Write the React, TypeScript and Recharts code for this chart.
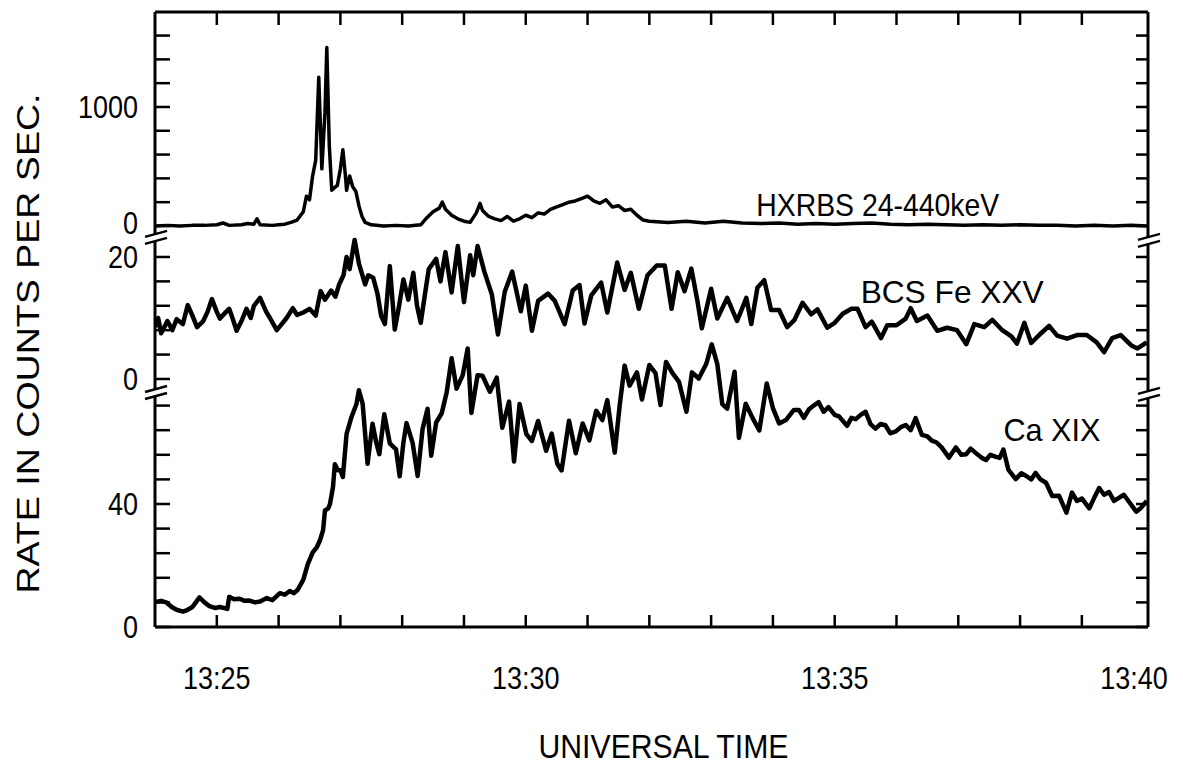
import React from 'react';
import { LineChart, Line, XAxis, YAxis, ReferenceDot } from 'recharts';

const FONT = '"Liberation Sans", Arial, Helvetica, sans-serif';

// time in minutes after 13:00 UT, rate in counts per second
const hxrbsSeries: [number, number][] = [
  [24.0, 0], [24.2, 5], [24.4, 0], [24.6, 5], [24.8, 5], [25.0, 10], [25.1, 25], [25.2, 5], [25.4, 10],
  [25.5, 20], [25.6, 15], [25.65, 60], [25.7, 10], [25.9, 5], [26.0, 10], [26.1, 15], [26.2, 30], [26.3, 50],
  [26.4, 120], [26.45, 250], [26.5, 220], [26.55, 420], [26.6, 550], [26.65, 1250], [26.7, 480], [26.75, 950],
  [26.78, 1500], [26.82, 680], [26.86, 300], [26.9, 320], [26.95, 340], [27.0, 480], [27.04, 640], [27.08, 430],
  [27.1, 300], [27.15, 420], [27.2, 330], [27.25, 290], [27.3, 170], [27.35, 80], [27.4, 30], [27.5, 10],
  [27.7, 0], [27.9, 5], [28.1, 0], [28.3, 10], [28.4, 70], [28.5, 120], [28.6, 150], [28.65, 200], [28.7, 140],
  [28.8, 90], [28.9, 60], [29.0, 40], [29.1, 30], [29.2, 110], [29.26, 190], [29.3, 130], [29.4, 80], [29.5, 60],
  [29.6, 45], [29.7, 80], [29.8, 40], [29.9, 60], [30.0, 90], [30.1, 70], [30.2, 110], [30.3, 100], [30.4, 140],
  [30.5, 160], [30.6, 180], [30.7, 200], [30.8, 210], [30.9, 230], [31.0, 250], [31.1, 210], [31.2, 190],
  [31.3, 220], [31.4, 160], [31.5, 170], [31.6, 130], [31.7, 140], [31.8, 90], [31.9, 50], [32.0, 40],
  [32.3, 30], [32.6, 40], [32.9, 25], [33.2, 40], [33.5, 25], [33.8, 20], [34.1, 25], [34.4, 15], [34.7, 20],
  [35.0, 15], [35.3, 20], [35.6, 25], [35.9, 15], [36.2, 10], [36.5, 15], [36.8, 10], [37.1, 5], [37.4, 10],
  [37.7, 5], [38.0, 10], [38.3, 5], [38.6, 5], [38.9, 0], [39.2, 5], [39.5, 0], [39.8, 5], [40.05, 0],
];

const bcsFeSeries: [number, number][] = [
  [24.0, 8.5], [24.05, 10], [24.1, 7.5], [24.2, 9.5], [24.28, 8], [24.35, 9.8], [24.45, 9], [24.53, 12.1],
  [24.6, 10.5], [24.68, 8.5], [24.78, 9.5], [24.85, 11], [24.92, 13.1], [25.0, 11], [25.05, 9.9], [25.15, 11],
  [25.2, 11.5], [25.27, 9.5], [25.32, 7.9], [25.4, 9.5], [25.48, 11.5], [25.55, 10], [25.6, 12], [25.7, 13.3],
  [25.8, 11], [25.86, 10], [25.97, 8], [26.05, 9], [26.13, 10], [26.23, 11.6], [26.3, 10.5], [26.4, 10.9],
  [26.5, 11.5], [26.6, 10.4], [26.68, 14.4], [26.75, 13], [26.85, 14.5], [26.92, 13.5], [26.98, 15.5],
  [27.05, 17], [27.1, 20], [27.15, 18], [27.23, 22.8], [27.3, 18.9], [27.4, 15.5], [27.45, 17], [27.53, 16.6],
  [27.6, 14], [27.66, 10.3], [27.72, 9], [27.8, 18.5], [27.88, 8.1], [27.95, 12], [28.02, 16.3], [28.1, 13],
  [28.18, 17.4], [28.24, 12], [28.3, 9.2], [28.37, 14], [28.43, 18], [28.55, 19.7], [28.62, 16], [28.7, 20.8],
  [28.8, 14.2], [28.9, 21.8], [29.0, 12.6], [29.1, 20.3], [29.15, 17], [29.22, 21.8], [29.33, 17.6],
  [29.45, 13.9], [29.55, 7.3], [29.66, 14.3], [29.78, 17.6], [29.92, 11.1], [30.0, 15.3], [30.1, 7.9],
  [30.2, 12.8], [30.36, 14], [30.47, 12.8], [30.63, 9], [30.76, 14.5], [30.87, 15.4], [30.95, 9.1],
  [31.06, 13.7], [31.22, 15.8], [31.32, 10.9], [31.48, 19.1], [31.6, 14.6], [31.7, 17.4], [31.83, 11.5],
  [31.97, 17], [32.12, 18.6], [32.25, 18.6], [32.36, 11.5], [32.46, 17.5], [32.57, 14.4], [32.68, 18.1],
  [32.78, 12.7], [32.85, 8.3], [33.0, 14.8], [33.1, 9.9], [33.26, 13.3], [33.42, 9.5], [33.57, 13.3],
  [33.65, 9], [33.75, 15], [33.86, 16.2], [33.97, 11.3], [34.1, 11.3], [34.23, 8.5], [34.35, 9.7],
  [34.48, 12.5], [34.62, 10.6], [34.72, 11.4], [34.88, 8.4], [35.0, 9.2], [35.13, 10.7], [35.27, 11.5],
  [35.37, 11.5], [35.5, 8.5], [35.6, 9.4], [35.75, 6.7], [35.85, 8.8], [36.0, 8.8], [36.15, 9.9],
  [36.23, 11.6], [36.33, 9.5], [36.5, 10.4], [36.66, 7.9], [36.82, 8.4], [36.98, 8], [37.13, 5.7],
  [37.26, 9], [37.42, 8.5], [37.55, 9.7], [37.7, 8.1], [37.86, 7], [37.95, 5.8], [38.07, 9.2], [38.18, 5.9],
  [38.34, 7.5], [38.47, 8.7], [38.6, 7.1], [38.76, 6.6], [38.92, 7.2], [39.08, 7.2], [39.24, 6], [39.36, 4.4],
  [39.49, 6.7], [39.63, 7.2], [39.8, 5.5], [39.9, 5], [40.05, 6],
];

const caXixSeries: [number, number][] = [
  [24.0, 8.1], [24.1, 8.5], [24.19, 7.9], [24.27, 6.5], [24.35, 5.6], [24.45, 5], [24.52, 5.5], [24.6, 6.4],
  [24.72, 9.6], [24.8, 8], [24.88, 6.8], [24.97, 6.2], [25.05, 6.5], [25.17, 5.9], [25.2, 9.8], [25.28, 9],
  [25.37, 9.2], [25.45, 8.5], [25.53, 8.6], [25.62, 8], [25.7, 8.3], [25.81, 9.4], [25.9, 8.7], [26.02, 11],
  [26.1, 10.5], [26.18, 11.7], [26.25, 11], [26.31, 12.1], [26.4, 15.4], [26.47, 20.3], [26.55, 24.2],
  [26.62, 26], [26.67, 28.2], [26.72, 31.5], [26.75, 37.9], [26.8, 38.5], [26.83, 39.9], [26.88, 45.5],
  [26.91, 52.9], [26.96, 51], [27.0, 51], [27.04, 48.8], [27.1, 62.8], [27.18, 68.3], [27.26, 72.5],
  [27.3, 77], [27.36, 72.6], [27.44, 53.1], [27.52, 66.1], [27.58, 60], [27.63, 56.2], [27.71, 69.2],
  [27.8, 59.7], [27.9, 57.8], [27.96, 49], [28.02, 60], [28.07, 66.3], [28.17, 59.8], [28.25, 49.1],
  [28.33, 64.4], [28.41, 71], [28.47, 55.7], [28.55, 66.5], [28.64, 69.5], [28.72, 76.3], [28.8, 87.4],
  [28.88, 77.5], [28.98, 81.9], [29.06, 90.6], [29.12, 69.6], [29.22, 81.9], [29.3, 81.7], [29.42, 76.5],
  [29.53, 81.1], [29.62, 64.8], [29.73, 73.3], [29.81, 53.8], [29.9, 72.5], [30.01, 62.7], [30.1, 60.5],
  [30.2, 67], [30.33, 57.3], [30.42, 62.9], [30.51, 53.1], [30.58, 50.9], [30.7, 67.1], [30.81, 56.5],
  [30.92, 66.2], [31.03, 60.7], [31.14, 70.3], [31.24, 67.3], [31.32, 73.8], [31.44, 56.7], [31.52, 72],
  [31.6, 85], [31.68, 78.5], [31.8, 82.8], [31.88, 74], [32.0, 85.2], [32.1, 82.6], [32.18, 72.2],
  [32.27, 86.2], [32.37, 82.7], [32.48, 79.7], [32.6, 70], [32.69, 82.8], [32.8, 80.8], [32.92, 85.5],
  [33.01, 91.9], [33.1, 85.5], [33.18, 72.5], [33.26, 71], [33.38, 83], [33.45, 61.5], [33.56, 72.6],
  [33.67, 68], [33.78, 63.9], [33.9, 79.2], [34.0, 71.2], [34.1, 66.2], [34.21, 67.3], [34.34, 70.6],
  [34.42, 70.6], [34.5, 68], [34.58, 70.7], [34.66, 72], [34.74, 73.1], [34.82, 70], [34.9, 71.5], [35.0, 69],
  [35.07, 68.5], [35.2, 65.4], [35.27, 68], [35.34, 67.6], [35.42, 69], [35.5, 70], [35.58, 66], [35.66, 64.5],
  [35.74, 66], [35.82, 65.6], [35.9, 63], [35.99, 63.6], [36.07, 65], [36.15, 65.7], [36.23, 64], [36.31, 67.9],
  [36.41, 62.5], [36.5, 62], [36.57, 60.6], [36.65, 60], [36.73, 58.4], [36.85, 55.1], [36.96, 58.4],
  [37.05, 56], [37.13, 56.2], [37.2, 58], [37.3, 56.3], [37.38, 55], [37.45, 54.3], [37.52, 56], [37.6, 55.4],
  [37.67, 55], [37.73, 57.7], [37.81, 51.2], [37.93, 48.1], [38.02, 50], [38.1, 49.1], [38.18, 48],
  [38.25, 50.1], [38.33, 48], [38.42, 46.9], [38.52, 42.6], [38.63, 42.7], [38.75, 37.2], [38.84, 43.7],
  [38.92, 41], [39.0, 41.8], [39.12, 38.6], [39.2, 42], [39.28, 45.2], [39.36, 43], [39.44, 43.9], [39.52, 41],
  [39.6, 42], [39.68, 43], [39.76, 40.8], [39.88, 37.5], [39.96, 38.8], [40.05, 41],
];

const minuteTicks = [25, 26, 27, 28, 29, 30, 31, 32, 33, 34, 35, 36, 37, 38, 39, 40];
const minuteLabels: Record<number, string> = { 25: '13:25', 30: '13:30', 35: '13:35', 40: '13:40' };

const hxrbsTicks = [0, 200, 400, 600, 800, 1000, 1200, 1400, 1600];
const hxrbsLabels: Record<number, string> = { 0: '0', 1000: '1000' };
const bcsTicks = [0, 4, 8, 12, 16, 20];
const bcsLabels: Record<number, string> = { 0: '0', 20: '20' };
const caTicks = [0, 8, 16, 24, 32, 40, 48, 56, 64, 72];
const caLabels: Record<number, string> = { 0: '0', 40: '40' };

const seriesNames = { hxrbs: 'HXRBS 24-440keV', bcs: 'BCS Fe XXV', ca: 'Ca XIX' };
const xTitle = 'UNIVERSAL TIME';
const yTitle = 'RATE IN COUNTS PER SEC.';

// axis domains that stack the three panels in one plot area
const X_DOMAIN: [number, number] = [24, 40.07];
const HX_DOMAIN: [number, number] = [-3370, 1798];
const BCS_DOMAIN: [number, number] = [-40.66, 60.16];
const CA_DOMAIN: [number, number] = [0, 200];

const toRows = (s: [number, number][]) => s.map(([t, v]) => ({ t, v }));
const hxrbsData = toRows(hxrbsSeries);
const bcsData = toRows(bcsFeSeries);
const caData = toRows(caXixSeries);

const INK = '#000';
const THIN = 0.01;

// condensed-looking numerals: tall glyphs squeezed horizontally
const NUM_SIZE = 31;
const SQUEEZE = 0.87;
const numWidth = (s: string) =>
  s.split('').reduce((w, ch) => w + (ch === ':' ? 0.278 : 0.556), 0) * NUM_SIZE * SQUEEZE;

const NumText = (p: { x: number; y: number; anchor: 'start' | 'middle' | 'end'; children: string }) => (
  <text
    x={p.x}
    y={p.y}
    textAnchor={p.anchor}
    fontFamily={FONT}
    fontSize={NUM_SIZE}
    textLength={numWidth(p.children)}
    lengthAdjust="spacingAndGlyphs"
    fill={INK}
  >
    {p.children}
  </text>
);

function leftTick(labels: Record<number, string>, nudge = 0) {
  return (props: any) => {
    const { x, y, payload } = props;
    const lab = labels[payload.value];
    return (
      <g>
        <line x1={x} y1={y} x2={x + 15} y2={y} stroke={INK} strokeWidth={2.5} />
        {lab !== undefined && (
          <NumText x={x - 17} y={y + 11 + (payload.value === 0 ? nudge : 0)} anchor="end">
            {lab}
          </NumText>
        )}
      </g>
    );
  };
}

const rightTick = (props: any) => {
  const { x, y } = props;
  return <line x1={x} y1={y} x2={x - 12} y2={y} stroke={INK} strokeWidth={2.5} />;
};

const bottomTick = (props: any) => {
  const { x, y, payload } = props;
  const lab = minuteLabels[payload.value];
  const last = payload.value >= 40;
  return (
    <g>
      {!last && <line x1={x} y1={y} x2={x} y2={y - 12} stroke={INK} strokeWidth={2.5} />}
      {lab !== undefined && (
        <NumText x={last ? x + 24 : x} y={y + 62} anchor={last ? 'end' : 'middle'}>
          {lab}
        </NumText>
      )}
    </g>
  );
};

const topTick = (props: any) => {
  const { x, y, payload } = props;
  if (payload.value >= 40) return <g />;
  return <line x1={x} y1={y} x2={x} y2={y + 13} stroke={INK} strokeWidth={2.5} />;
};

const BreakMark = (props: any) => {
  const { cx, cy } = props;
  if (cx == null || cy == null) return <g />;
  const a = cx - 10;
  const b = cx + 12;
  return (
    <g>
      <polygon points={`${a},${cy} ${b},${cy - 6} ${b},${cy + 1} ${a},${cy + 7}`} fill="#fff" />
      <line x1={a} y1={cy} x2={b} y2={cy - 6} stroke={INK} strokeWidth={2.5} />
      <line x1={a} y1={cy + 7} x2={b} y2={cy + 1} stroke={INK} strokeWidth={2.5} />
    </g>
  );
};

const textMark = (label: string, width: number) => (props: any) => {
  const { cx, cy } = props;
  if (cx == null || cy == null) return <g />;
  return (
    <text x={cx} y={cy} fontFamily={FONT} fontSize={32} textLength={width} lengthAdjust="spacingAndGlyphs" fill={INK}>
      {label}
    </text>
  );
};

const xTitleContent = (props: any) => {
  const vb = props.viewBox || { x: 147, y: 619, width: 993, height: 0 };
  return (
    <text
      x={vb.x + vb.width / 2 + 12}
      y={vb.y + 131}
      textAnchor="middle"
      fontFamily={FONT}
      fontSize={34}
      textLength={250}
      lengthAdjust="spacingAndGlyphs"
      fill={INK}
    >
      {xTitle}
    </text>
  );
};

const yTitleContent = (props: any) => {
  const vb = props.viewBox || { x: 147, y: 4, width: 0, height: 615 };
  const cx = vb.x - 127;
  const cy = vb.y + vb.height / 2 + 24;
  return (
    <text
      x={cx}
      y={cy}
      transform={`rotate(-90 ${cx} ${cy})`}
      textAnchor="middle"
      dominantBaseline="central"
      fontFamily={FONT}
      fontSize={32}
      textLength={500}
      lengthAdjust="spacingAndGlyphs"
      fill={INK}
    >
      {yTitle}
    </text>
  );
};

const axisLineStyle = { stroke: INK, strokeWidth: 3 };

const commonY = {
  type: 'number' as const,
  allowDataOverflow: true,
  interval: 0 as const,
  width: THIN,
  tickSize: 0,
  tickMargin: 0,
  tickLine: false,
};

export default function App() {
  return (
    <div style={{ width: 1175, height: 758, background: '#fff' }}>
      <LineChart width={1175} height={758} margin={{ top: 4, right: 35, bottom: 139, left: 147 }}>
        <XAxis
          xAxisId="b"
          dataKey="t"
          type="number"
          domain={X_DOMAIN}
          allowDataOverflow
          ticks={minuteTicks}
          interval={0}
          height={THIN}
          tickSize={0}
          tickMargin={0}
          tickLine={false}
          axisLine={axisLineStyle}
          tick={bottomTick}
          label={{ content: xTitleContent }}
        />
        <XAxis
          xAxisId="top"
          orientation="top"
          dataKey="t"
          type="number"
          domain={X_DOMAIN}
          allowDataOverflow
          ticks={minuteTicks}
          interval={0}
          height={THIN}
          tickSize={0}
          tickMargin={0}
          tickLine={false}
          axisLine={axisLineStyle}
          tick={topTick}
        />
        <YAxis
          yAxisId="hx"
          {...commonY}
          domain={HX_DOMAIN}
          ticks={hxrbsTicks}
          axisLine={axisLineStyle}
          tick={leftTick(hxrbsLabels, -3)}
          label={{ content: yTitleContent }}
        />
        <YAxis yAxisId="bcs" {...commonY} domain={BCS_DOMAIN} ticks={bcsTicks} axisLine={false} tick={leftTick(bcsLabels)} />
        <YAxis yAxisId="ca" {...commonY} domain={CA_DOMAIN} ticks={caTicks} axisLine={false} tick={leftTick(caLabels)} />
        <YAxis
          yAxisId="hxR"
          orientation="right"
          {...commonY}
          domain={HX_DOMAIN}
          ticks={hxrbsTicks}
          axisLine={axisLineStyle}
          tick={rightTick}
        />
        <YAxis yAxisId="bcsR" orientation="right" {...commonY} domain={BCS_DOMAIN} ticks={bcsTicks} axisLine={false} tick={rightTick} />
        <YAxis yAxisId="caR" orientation="right" {...commonY} domain={CA_DOMAIN} ticks={caTicks} axisLine={false} tick={rightTick} />

        <Line
          xAxisId="b"
          yAxisId="hx"
          data={hxrbsData}
          dataKey="v"
          type="linear"
          stroke={INK}
          strokeWidth={3.5}
          strokeLinejoin="round"
          dot={false}
          isAnimationActive={false}
        />
        <Line
          xAxisId="b"
          yAxisId="bcs"
          data={bcsData}
          dataKey="v"
          type="linear"
          stroke={INK}
          strokeWidth={4.5}
          strokeLinejoin="round"
          dot={false}
          isAnimationActive={false}
        />
        <Line
          xAxisId="b"
          yAxisId="ca"
          data={caData}
          dataKey="v"
          type="linear"
          stroke={INK}
          strokeWidth={4.5}
          strokeLinejoin="round"
          dot={false}
          isAnimationActive={false}
        />

        <ReferenceDot xAxisId="b" yAxisId="bcs" x={X_DOMAIN[0]} y={23.3} ifOverflow="visible" shape={BreakMark} />
        <ReferenceDot xAxisId="b" yAxisId="ca" x={X_DOMAIN[0]} y={76.4} ifOverflow="visible" shape={BreakMark} />
        <ReferenceDot xAxisId="b" yAxisId="bcs" x={X_DOMAIN[1]} y={22.8} ifOverflow="visible" shape={BreakMark} />
        <ReferenceDot xAxisId="b" yAxisId="ca" x={X_DOMAIN[1]} y={75.8} ifOverflow="visible" shape={BreakMark} />

        <ReferenceDot xAxisId="b" yAxisId="hx" x={33.73} y={80} ifOverflow="visible" shape={textMark(seriesNames.hxrbs, 243)} />
        <ReferenceDot xAxisId="b" yAxisId="bcs" x={35.42} y={12.5} ifOverflow="visible" shape={textMark(seriesNames.bcs, 183)} />
        <ReferenceDot xAxisId="b" yAxisId="ca" x={37.73} y={60.5} ifOverflow="visible" shape={textMark(seriesNames.ca, 97)} />
      </LineChart>
    </div>
  );
}
